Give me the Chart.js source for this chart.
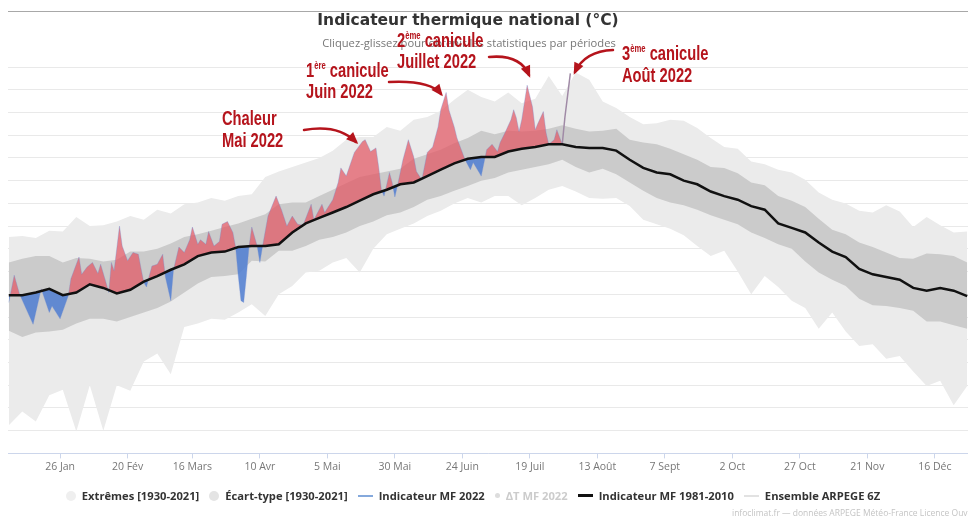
<!DOCTYPE html>
<html lang="fr">
<head>
<meta charset="utf-8">
<title>Indicateur thermique national</title>
<script src="https://cdn.jsdelivr.net/npm/chart.js@4.4.1/dist/chart.umd.min.js"></script>
<style>
  html, body { margin: 0; padding: 0; background: #fff; }
  #cadre { position: relative; width: 968px; height: 517px; overflow: hidden; }
  #graphe { position: absolute; left: 0; top: 0; }
  #legende {
    position: absolute; left: 0; top: 488px; width: 946px;
    display: flex; justify-content: center; align-items: center;
    font: bold 11.2px "Open Sans", sans-serif; color: #333; white-space: nowrap;
  }
  #legende .item { display: flex; align-items: center; margin: 0 5px; }
  #legende .rond { width: 10px; height: 10px; border-radius: 50%; margin-right: 6px; }
  #legende .trait { width: 15px; margin-right: 6px; }
  #legende .off { color: #ccc; }
  #credit {
    position: absolute; left: 732px; top: 507px; white-space: nowrap;
    font: 8.5px "Open Sans", sans-serif; color: #c4c4c4;
  }
</style>
</head>
<body>
<div id="cadre">
  <canvas id="graphe" width="968" height="517"></canvas>
  <div id="legende">
    <div class="item"><span class="rond" style="background:#efefef"></span>Extrêmes [1930-2021]</div>
    <div class="item"><span class="rond" style="background:#e4e4e4"></span>Écart-type [1930-2021]</div>
    <div class="item"><span class="trait" style="border-top:2px solid #85a9dc"></span>Indicateur MF 2022</div>
    <div class="item off"><span class="rond" style="background:#ddd;width:5px;height:5px"></span>ΔT MF 2022</div>
    <div class="item"><span class="trait" style="border-top:3px solid #111"></span>Indicateur MF 1981-2010</div>
    <div class="item"><span class="trait" style="border-top:2px solid #e2e2e2"></span>Ensemble ARPEGE 6Z</div>
  </div>
  <div id="credit">infoclimat.fr — données ARPEGE Météo-France Licence Ouverte</div>
</div>
<script>
// jour de l'année (1 = 1er janvier)
const jours = [7, 12, 17, 22, 27, 32, 37, 42, 47, 52, 57, 62, 67, 72, 77, 82, 87, 92, 97, 102,
  107, 112, 117, 122, 127, 132, 137, 142, 147, 152, 157, 162, 167, 172, 177, 182, 187, 192, 197, 202,
  207, 212, 217, 222, 227, 232, 237, 242, 247, 252, 257, 262, 267, 272, 277, 282, 287, 292, 297, 302,
  307, 312, 317, 322, 327, 332, 337, 342, 347, 352, 357, 362];

const extremesMax = [11.3, 11.4, 11.2, 12.0, 11.9, 13.5, 12.5, 12.6, 13.0, 13.6, 13.2, 14.3, 13.9, 14.9, 15.1, 15.6, 15.3, 15.8, 16.0, 17.9,
  18.5, 19.0, 19.5, 20.0, 20.8, 22.0, 22.3, 22.3, 23.4, 23.0, 24.2, 24.5, 25.2, 26.4, 27.5, 26.7, 26.2, 27.2, 26.0, 26.5,
  29.0, 26.8, 29.4, 28.6, 26.2, 25.5, 24.5, 23.7, 23.8, 24.2, 24.1, 23.3, 22.2, 21.2, 21.0, 19.6, 19.3, 18.7, 18.4, 17.6,
  16.2, 15.4, 15.0, 14.2, 14.0, 14.8, 14.1, 12.4, 13.5, 12.6, 11.8, 11.9];

const ecartMax = [8.5, 8.9, 9.2, 9.2, 8.5, 9.0, 8.9, 8.6, 8.8, 9.7, 9.7, 10.0, 10.6, 11.3, 11.6, 12.0, 12.4, 12.8, 13.3, 13.8,
  14.9, 15.1, 15.1, 15.8, 16.5, 17.2, 17.9, 18.2, 18.5, 18.8, 19.9, 20.4, 20.9, 21.6, 22.2, 23.0, 22.6, 23.0, 22.9, 23.0,
  23.2, 23.6, 23.2, 22.9, 23.0, 23.2, 22.0, 21.7, 21.5, 21.0, 20.4, 19.8, 19.0, 18.9, 18.3, 17.3, 17.0, 15.8, 15.3, 14.6,
  13.3, 12.1, 11.6, 10.7, 10.2, 9.6, 9.0, 8.9, 9.5, 9.4, 9.2, 8.5];

const normale = [4.9, 4.9, 5.2, 5.6, 4.9, 5.2, 6.1, 5.7, 5.1, 5.5, 6.4, 7.0, 7.7, 8.3, 9.2, 9.6, 9.7, 10.2, 10.3, 10.3,
  10.5, 11.8, 12.8, 13.4, 14.0, 14.6, 15.3, 16.0, 16.5, 17.1, 17.3, 18.0, 18.7, 19.4, 19.9, 20.1, 20.1, 20.7, 21.0, 21.2,
  21.5, 21.5, 21.2, 21.1, 21.1, 20.8, 19.8, 18.9, 18.4, 18.2, 17.5, 17.1, 16.3, 15.8, 15.4, 14.7, 14.3, 12.8, 12.3, 11.8,
  10.7, 9.7, 9.1, 7.8, 7.2, 6.9, 6.6, 5.7, 5.4, 5.7, 5.4, 4.8];

const ecartMin = [1.0, 0.3, 0.8, 0.9, 1.1, 1.8, 2.3, 2.3, 2.0, 2.5, 3.0, 3.5, 4.2, 5.2, 6.2, 6.9, 7.0, 7.2, 8.7, 8.6,
  9.8, 9.8, 10.3, 11.0, 11.3, 11.8, 12.5, 13.0, 13.7, 14.0, 14.6, 15.4, 15.8, 16.4, 16.9, 17.5, 17.8, 18.4, 18.7, 19.0,
  19.3, 19.8, 19.0, 18.4, 18.8, 18.2, 17.3, 16.4, 15.6, 15.1, 14.8, 14.3, 13.7, 13.2, 12.7, 11.8, 11.2, 10.5, 10.0, 8.6,
  7.4, 6.6, 5.9, 4.5, 3.8, 3.7, 3.5, 3.2, 2.0, 2.0, 1.6, 1.2];

const extremesMin = [-9.4, -7.9, -9.0, -6.1, -5.5, -10.1, -5.0, -10.0, -5.0, -5.6, -2.4, -1.5, -3.8, 1.4, 1.8, 2.3, 2.2, 3.0, 3.9, 2.6,
  5.0, 5.9, 7.4, 7.6, 8.5, 9.0, 7.4, 10.0, 11.6, 12.2, 12.8, 13.6, 14.2, 15.0, 15.6, 15.1, 15.8, 15.8, 14.8, 15.6,
  16.5, 16.9, 16.3, 15.6, 15.5, 15.6, 14.7, 13.2, 12.7, 12.2, 11.5, 10.3, 9.2, 9.8, 7.5, 5.0, 7.0, 5.8, 4.3, 3.5,
  1.2, 3.0, 0.9, -0.7, -0.5, -2.1, -1.8, -3.5, -5.1, -4.5, -7.2, -5.1];

// Indicateur thermique 2022 (jusqu'au début août)
const jours2022 = [7, 9, 11, 16, 19, 22, 23, 26, 29, 30, 33, 34, 36, 38, 40, 41, 43, 44, 45, 46,
  48, 49, 51, 53, 55, 56, 57, 58, 59, 60, 62, 64, 65, 67, 68, 70, 72, 74, 75, 77,
  78, 80, 81, 83, 85, 86, 88, 90, 91, 92, 93, 94, 95, 96, 97, 99, 100, 101, 103, 106,
  108, 110, 112, 114, 116, 119, 120, 123, 124, 127, 129, 130, 132, 135, 138, 139, 141, 143, 144, 145,
  146, 148, 149, 150, 151, 153, 155, 157, 158, 160, 162, 164, 166, 167, 169, 170, 172, 173, 175, 176,
  178, 179, 182, 184, 186, 188, 189, 191, 193, 194, 195, 196, 197, 199, 201, 202, 203, 205, 206, 207,
  209, 210, 212];
const indicateur2022 = [4.1, 7.1, 5.0, 1.7, 5.6, 3.0, 3.7, 2.3, 4.8, 6.7, 9.1, 7.2, 8.0, 8.5, 7.3, 8.3, 6.3, 5.2, 8.5, 7.6,
  12.5, 10.3, 8.7, 9.6, 9.4, 7.8, 6.3, 5.8, 7.0, 8.1, 8.3, 9.4, 6.9, 4.3, 7.7, 10.2, 9.6, 11.0, 12.4, 10.5,
  11.0, 10.5, 11.9, 10.3, 10.8, 12.7, 13.0, 11.8, 10.2, 7.0, 4.3, 4.1, 7.0, 10.3, 12.4, 10.3, 8.5, 10.3, 13.6, 15.8,
  14.3, 12.5, 13.6, 12.7, 12.6, 14.9, 13.2, 14.9, 14.0, 15.4, 17.3, 18.9, 18.0, 20.6, 21.8, 22.0, 20.7, 21.1, 19.0, 16.5,
  15.8, 18.4, 17.3, 15.7, 17.0, 19.8, 22.0, 20.1, 18.5, 17.6, 20.6, 21.2, 23.4, 25.3, 27.2, 25.3, 23.4, 22.2, 20.6, 19.8,
  18.7, 19.5, 18.0, 20.9, 21.5, 20.7, 21.7, 22.9, 24.2, 25.3, 24.4, 22.9, 24.2, 28.0, 25.6, 23.1, 23.8, 25.1, 22.8, 21.5,
  22.0, 23.1, 21.5];

// prévision ARPEGE (3e canicule)
const joursArpege = [212, 213, 215];
const arpege = [21.5, 24.5, 29.3];

const tickJours = [26, 51, 75, 100, 125, 150, 175, 200, 225, 250, 275, 300, 325, 350];
const tickLabels = ['26 Jan', '20 Fév', '16 Mars', '10 Avr', '5 Mai', '30 Mai', '24 Juin', '19 Juil',
  '13 Août', '7 Sept', '2 Oct', '27 Oct', '21 Nov', '16 Déc'];

const pts = (xs, ys) => xs.map((x, i) => ({ x: x, y: ys[i] }));

const titre = 'Indicateur thermique national (°C)';
const sousTitre = 'Cliquez-glissez pour obtenir les statistiques par périodes';

// textes et flèches rouges
const rouge = '#b5141c';
const annotations = [
  { lignes: [[['Chaleur']], [['Mai 2022']]], x: 222, y: [125, 147], fleche: [[304, 130], [338, 124], [356, 142]] },
  { lignes: [[['1'], ['ère', 1], [' canicule']], [['Juin 2022']]], x: 306, y: [77, 98], fleche: [[389, 82], [430, 80], [441, 94]] },
  { lignes: [[['2'], ['ème', 1], [' canicule']], [['Juillet 2022']]], x: 397, y: [47, 68], fleche: [[489, 57], [520, 54], [529, 75]] },
  { lignes: [[['3'], ['ème', 1], [' canicule']], [['Août 2022']]], x: 622, y: [60, 82], fleche: [[613, 50], [585, 51], [575, 72]] }
];

const pluginTextes = {
  id: 'textes',
  beforeDraw(chart) {
    const ctx = chart.ctx;
    ctx.save();
    ctx.strokeStyle = '#a8a8a8';
    ctx.lineWidth = 1;
    ctx.beginPath();
    ctx.moveTo(8, 11.5);
    ctx.lineTo(968, 11.5);
    ctx.stroke();
    ctx.restore();
  },
  afterDraw(chart) {
    const ctx = chart.ctx;
    ctx.save();
    ctx.textAlign = 'center';
    ctx.textBaseline = 'middle';
    ctx.fillStyle = '#333';
    ctx.font = 'bold 15.5px "DejaVu Sans"';
    ctx.fillText(titre, 468, 21);
    ctx.fillStyle = '#777';
    ctx.font = '11.2px "Open Sans"';
    ctx.fillText(sousTitre, 469, 44);
    ctx.restore();

    ctx.save();
    ctx.fillStyle = rouge;
    ctx.strokeStyle = rouge;
    annotations.forEach(a => {
      a.lignes.forEach((ligne, k) => {
        ctx.save();
        ctx.translate(a.x, a.y[k]);
        ctx.scale(0.7, 1);
        let cx = 0;
        ligne.forEach(([t, sup]) => {
          ctx.font = sup ? 'bold 11px "Liberation Sans"' : 'bold 21px "Liberation Sans"';
          ctx.fillText(t, cx, sup ? -8 : 0);
          cx += ctx.measureText(t).width;
        });
        ctx.restore();
      });
      const [p0, p1, p2] = a.fleche;
      ctx.lineWidth = 2.5;
      ctx.lineCap = 'round';
      ctx.beginPath();
      ctx.moveTo(p0[0], p0[1]);
      ctx.quadraticCurveTo(p1[0], p1[1], p2[0], p2[1]);
      ctx.stroke();
      const ang = Math.atan2(p2[1] - p1[1], p2[0] - p1[0]);
      ctx.beginPath();
      ctx.moveTo(p2[0] + 3 * Math.cos(ang), p2[1] + 3 * Math.sin(ang));
      ctx.lineTo(p2[0] - 9 * Math.cos(ang) + 5 * Math.sin(ang), p2[1] - 9 * Math.sin(ang) - 5 * Math.cos(ang));
      ctx.lineTo(p2[0] - 9 * Math.cos(ang) - 5 * Math.sin(ang), p2[1] - 9 * Math.sin(ang) + 5 * Math.cos(ang));
      ctx.closePath();
      ctx.fill();
    });
    ctx.restore();
  }
};

new Chart(document.getElementById('graphe'), {
  type: 'line',
  data: {
    datasets: [
      {
        label: 'Indicateur MF 1981-2010',
        data: pts(jours, normale),
        borderColor: '#111',
        borderWidth: 2.5,
        fill: false,
        order: 0
      },
      {
        label: 'Indicateur MF 2022',
        data: pts(jours2022, indicateur2022),
        borderColor: 'rgba(110, 140, 210, 0.4)',
        borderWidth: 0.8,
        fill: { target: 0, above: 'rgba(226, 86, 98, 0.72)', below: 'rgba(82, 128, 210, 0.88)' },
        order: 1
      },
      {
        label: 'Ensemble ARPEGE 6Z',
        data: pts(joursArpege, arpege),
        borderColor: '#a08aa6',
        borderWidth: 1.5,
        fill: false,
        order: 2
      },
      {
        label: 'Écart-type [1930-2021]',
        data: pts(jours, ecartMax),
        borderWidth: 0,
        borderColor: 'rgba(0,0,0,0)',
        backgroundColor: '#cbcbcb',
        fill: 4,
        order: 3
      },
      {
        label: 'Écart-type min',
        data: pts(jours, ecartMin),
        borderWidth: 0,
        borderColor: 'rgba(0,0,0,0)',
        fill: false,
        order: 4
      },
      {
        label: 'Extrêmes [1930-2021]',
        data: pts(jours, extremesMax),
        borderWidth: 0,
        borderColor: 'rgba(0,0,0,0)',
        backgroundColor: '#ebebeb',
        fill: 6,
        order: 5
      },
      {
        label: 'Extrêmes min',
        data: pts(jours, extremesMin),
        borderWidth: 0,
        borderColor: 'rgba(0,0,0,0)',
        fill: false,
        order: 6
      }
    ]
  },
  options: {
    responsive: false,
    animation: false,
    layout: { padding: { left: 8, right: 0, top: 67, bottom: 42 } },
    elements: { point: { radius: 0 }, line: { tension: 0 } },
    plugins: {
      legend: { display: false },
      tooltip: { enabled: false },
      title: { display: false }
    },
    scales: {
      x: {
        type: 'linear',
        min: 6.7,
        max: 362.3,
        afterBuildTicks: axis => { axis.ticks = tickJours.map(v => ({ value: v })); },
        ticks: {
          autoSkip: false,
          maxRotation: 0,
          padding: 2,
          color: '#777',
          font: { family: 'Open Sans', size: 10.5 },
          callback: v => tickLabels[tickJours.indexOf(v)]
        },
        grid: { drawOnChartArea: false, drawTicks: true, tickLength: 5, color: '#ccd6eb' },
        border: { color: '#ccd6eb' }
      },
      y: {
        min: -12.5,
        max: 30,
        ticks: { display: false, stepSize: 2.5 },
        grid: { color: '#e9e9e9', drawTicks: false },
        border: { display: false }
      }
    }
  },
  plugins: [pluginTextes]
});
</script>
</body>
</html>
